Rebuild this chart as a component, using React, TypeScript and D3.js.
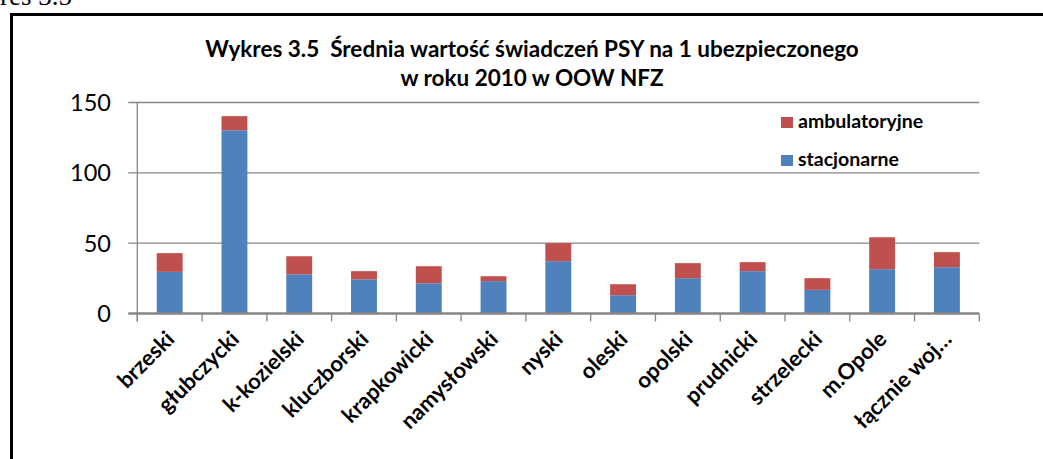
import { useEffect, useRef } from 'react';
import * as d3 from 'd3';

const categories = ['brzeski', 'głubczycki', 'k-kozielski', 'kluczborski', 'krapkowicki', 'namysłowski', 'nyski', 'oleski', 'opolski', 'prudnicki', 'strzelecki', 'm.Opole', 'łącznie woj…'];
const stacjonarne = [29.6, 130.3, 27.9, 24.3, 21.5, 23.0, 37.2, 13.0, 25.1, 30.1, 16.8, 31.5, 32.9];
const ambulatoryjne = [13.3, 10.0, 12.8, 5.8, 12.1, 3.5, 12.8, 7.8, 10.7, 6.4, 8.3, 22.7, 10.7];
const yTicks = [0, 50, 100, 150];
const seriesNames = ['stacjonarne', 'ambulatoryjne'];
const titleLines = ['Wykres 3.5  Średnia wartość świadczeń PSY na 1 ubezpieczonego', 'w roku 2010 w OOW NFZ'];

const colors = { stacjonarne: '#4F81BD', ambulatoryjne: '#C0504D' };
const font = 'Lato, "Open Sans", sans-serif';

export default function App() {
  const ref = useRef<SVGSVGElement>(null);
  const width = 1043;
  const height = 459;

  useEffect(() => {
    if (!ref.current) return;
    const svg = d3.select(ref.current);
    svg.selectAll('*').remove();

    const left = 137.3, right = 979.3, top = 102.5, bottom = 313.5;

    const x = d3.scaleBand().domain(categories).range([left, right]).paddingInner(0.6).paddingOuter(0.3);
    const y = d3.scaleLinear().domain([0, 150]).range([bottom, top]);

    const rows = categories.map((c, i) => ({ cat: c, stacjonarne: stacjonarne[i], ambulatoryjne: ambulatoryjne[i] }));
    const stack = d3.stack().keys(seriesNames)(rows);

    // clipped caption of the page above the chart
    svg.append('text').attr('x', 72).attr('y', 5).attr('text-anchor', 'end')
      .attr('font-family', '"Liberation Serif", serif').attr('font-size', 27).text('Wykres 3.5');

    // frame
    svg.append('rect').attr('x', 11.5).attr('y', 14.5).attr('width', 1100).attr('height', 500)
      .attr('fill', 'none').attr('stroke', '#000').attr('stroke-width', 3);

    // title
    svg.append('g').selectAll('text').data(titleLines).enter().append('text')
      .attr('x', 532).attr('y', (_, i) => 57 + i * 29)
      .attr('text-anchor', 'middle').attr('font-family', font).attr('font-weight', 700).attr('font-size', 22.5)
      .style('white-space', 'pre')
      .text((d) => d);

    // gridlines
    const grid = svg.append('g');
    grid.selectAll('line').data(yTicks.filter((t) => t > 0)).enter().append('line')
      .attr('x1', left - 9).attr('x2', right).attr('y1', (d) => y(d)).attr('y2', (d) => y(d))
      .attr('stroke', '#868686').attr('stroke-width', 1.3);

    // y axis
    svg.append('line').attr('x1', left).attr('x2', left).attr('y1', top).attr('y2', bottom + 8)
      .attr('stroke', '#868686').attr('stroke-width', 1.3);
    svg.append('g').selectAll('text').data(yTicks).enter().append('text')
      .attr('x', 111).attr('y', (d) => y(d)).attr('dy', '0.36em').attr('text-anchor', 'end')
      .attr('font-family', font).attr('font-size', 23.5).text((d) => d);

    // bars
    svg.append('g').selectAll('g').data(stack).enter().append('g')
      .attr('fill', (s) => colors[s.key])
      .selectAll('rect').data((s) => s).enter().append('rect')
      .attr('x', (d) => x(d.data.cat)!)
      .attr('y', (d) => y(d[1]))
      .attr('width', x.bandwidth())
      .attr('height', (d) => y(d[0]) - y(d[1]));

    // x axis
    svg.append('line').attr('x1', left - 9).attr('x2', right).attr('y1', bottom).attr('y2', bottom)
      .attr('stroke', '#868686').attr('stroke-width', 2.5);
    const step = x.step();
    const bounds = d3.range(categories.length + 1).map((i) => left + i * step);
    svg.append('g').selectAll('line').data(bounds).enter().append('line')
      .attr('x1', (d) => d).attr('x2', (d) => d).attr('y1', bottom).attr('y2', bottom + 8)
      .attr('stroke', '#868686').attr('stroke-width', 1.3);

    svg.append('g').selectAll('text').data(categories).enter().append('text')
      .attr('transform', (d) => `translate(${x(d)! + x.bandwidth() / 2 + 6},${bottom + 27}) rotate(-45)`)
      .attr('text-anchor', 'end').attr('font-family', font).attr('font-weight', 700).attr('font-size', 22)
      .text((d) => d);

    // legend
    const legend = svg.append('g').selectAll('g').data(['ambulatoryjne', 'stacjonarne']).enter().append('g')
      .attr('transform', (_, i) => `translate(781,${117 + i * 38})`);
    legend.append('rect').attr('width', 12).attr('height', 11).attr('fill', (d) => colors[d]);
    legend.append('text').attr('x', 17).attr('y', 11).attr('font-family', font).attr('font-weight', 700)
      .attr('font-size', 19.5).text((d) => d);
  }, []);

  return <svg ref={ref} width={width} height={height} style={{ position: 'absolute', left: 0, top: 0, background: '#fff' }} />;
}
